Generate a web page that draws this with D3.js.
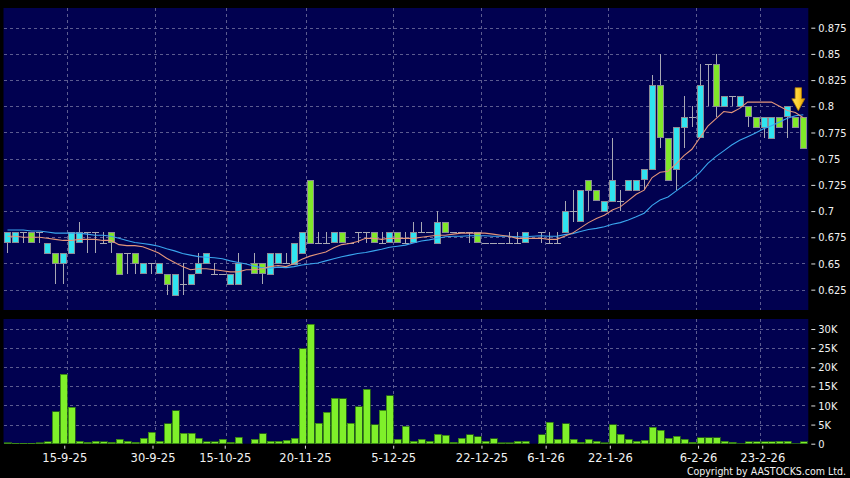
<!DOCTYPE html>
<html><head><meta charset="utf-8">
<script src="https://cdn.jsdelivr.net/npm/d3@7"></script>
<style>html,body{margin:0;padding:0;background:#000;}svg{display:block}</style>
</head><body>
<svg id="c" width="850" height="478"></svg>
<script>
// ---------- DATA ----------
const opens = [0.67,0.67,0.68,0.68,0.68,0.66,0.66,0.65,0.66,0.67, 0.68,0.68,0.67,0.68,0.66,0.66,0.66,0.64,0.65,0.64, 0.64,0.62,0.63,0.63,0.64,0.65,0.64,0.64,0.63,0.63, null,0.65,0.65,0.64,0.65,0.65,0.65,0.66,0.73,0.67, 0.67,0.67,0.68,0.67,0.68,0.68,0.68,0.67,0.67,0.68, 0.67,0.67,0.68,0.68,0.67,0.69,0.68,0.68,0.68,0.68, 0.67,0.67,0.67,0.67,0.67,0.67,null,0.68,0.67,0.67, 0.68,0.70,0.69,0.73,0.72,0.70,0.71,0.71,0.72,0.72, 0.73,0.74,0.82,0.77,0.74,0.78,0.79,0.77,0.84,0.84, 0.80,0.81,0.80,0.80,0.79,0.78,0.77,0.79,0.79,0.79, 0.79];
const highs = [0.68,0.68,0.68,0.68,0.68,0.67,0.66,0.66,0.68,0.69, 0.68,0.68,0.68,0.68,0.66,0.66,0.66,0.65,0.65,0.65, 0.64,0.64,0.65,0.64,0.66,0.66,0.65,0.64,0.64,0.66, null,0.66,0.65,0.66,0.66,0.66,0.67,0.68,0.73,0.68, 0.68,0.68,0.68,0.67,0.68,0.68,0.68,0.68,0.68,0.68, 0.68,0.69,0.69,0.68,0.70,0.69,0.68,0.68,0.68,0.68, 0.67,0.67,0.67,0.68,0.68,0.68,null,0.68,0.68,0.68, 0.71,0.72,0.72,0.73,0.72,0.71,0.77,0.72,0.73,0.73, 0.74,0.83,0.85,0.77,0.78,0.81,0.80,0.84,0.84,0.85, 0.81,0.81,0.81,0.80,0.79,0.79,0.79,0.79,0.80,0.79, 0.79];
const lows = [0.66,0.67,0.67,0.67,0.67,0.66,0.63,0.63,0.66,0.67, 0.66,0.66,0.67,0.66,0.64,0.64,0.64,0.64,0.64,0.64, 0.62,0.62,0.62,0.63,0.64,0.65,0.64,0.64,0.63,0.63, null,0.64,0.63,0.64,0.65,0.65,0.65,0.66,0.67,0.67, 0.67,0.67,0.67,0.67,0.67,0.67,0.67,0.67,0.67,0.67, 0.67,0.67,0.68,0.68,0.67,0.68,0.68,0.68,0.67,0.67, 0.67,0.67,0.67,0.67,0.67,0.67,null,0.67,0.67,0.67, 0.68,0.69,0.69,0.70,0.71,0.70,0.71,0.70,0.72,0.72, 0.72,0.74,0.76,0.73,0.72,0.76,0.78,0.77,0.80,0.79, 0.80,0.80,0.80,0.78,0.78,0.77,0.77,0.78,0.77,0.78, 0.76];
const closes = [0.68,0.68,0.68,0.67,0.68,0.67,0.65,0.66,0.68,0.68, 0.68,0.68,0.67,0.67,0.64,0.66,0.65,0.65,0.65,0.65, 0.63,0.64,0.63,0.64,0.65,0.66,0.64,0.64,0.64,0.65, null,0.64,0.64,0.66,0.66,0.65,0.67,0.68,0.67,0.67, 0.67,0.68,0.67,0.67,0.68,0.68,0.67,0.67,0.68,0.67, 0.67,0.68,0.68,0.68,0.69,0.68,0.68,0.68,0.68,0.67, 0.67,0.67,0.67,0.67,0.67,0.68,null,0.68,0.67,0.67, 0.70,0.70,0.72,0.72,0.71,0.71,0.73,0.71,0.73,0.73, 0.74,0.82,0.77,0.73,0.78,0.79,0.79,0.82,0.84,0.80, 0.81,0.81,0.81,0.79,0.78,0.79,0.79,0.78,0.80,0.78, 0.76];
// volume in thousands of shares
const volumes = [0.3,0.1,0.1,0.1,0.25,0.5,8.3,18.2,9.6,0.6, 0.35,0.6,0.45,0.35,1.1,0.7,0.35,1.4,3.0,0.7, 5.2,8.6,2.7,2.7,1.4,0.45,0.45,1.1,0.35,1.7, 0,1.1,2.6,0.6,0.6,0.9,1.4,24.8,31.2,5.4, 8.2,11.9,11.7,5.4,9.7,14.3,4.9,8.7,12.5,1.2, 4.5,0.7,1.2,0.7,2.5,2.2,0.35,1.4,2.3,1.8, 0.6,1.3,0.25,0.2,0.6,0.7,0,2.4,5.6,1.1, 5.2,1.2,0.35,1.1,0.6,0.2,4.9,2.5,1.1,0.6, 0.9,4.3,3.5,1.4,2.0,1.1,0.35,1.5,1.5,1.6, 0.7,0.35,0.05,0.5,0.5,0.5,0.5,0.7,0.7,0.05, 0.5];
const ma10 = [0.676,0.676,0.675,0.675,0.675,0.674,0.673,0.672,0.672,0.673, 0.673,0.673,0.672,0.672,0.668,0.667,0.667,0.666,0.663,0.660, 0.655,0.651,0.647,0.644,0.645,0.645,0.644,0.643,0.642,0.642, 0.644,0.644,0.645,0.647,0.648,0.647,0.650,0.654,0.657,0.659, 0.661,0.665,0.668,0.669,0.671,0.674,0.674,0.673,0.674,0.674, 0.674,0.674,0.675,0.676,0.677,0.677,0.678,0.679,0.679,0.679, 0.679,0.678,0.677,0.676,0.674,0.674,0.674,0.674,0.673,0.673, 0.676,0.679,0.684,0.689,0.693,0.696,0.701,0.704,0.710,0.716, 0.720,0.732,0.737,0.738,0.745,0.753,0.759,0.770,0.781,0.788, 0.795,0.794,0.798,0.804,0.804,0.804,0.804,0.800,0.796,0.794, 0.789];
const ma20 = [0.682,0.682,0.682,0.681,0.681,0.680,0.679,0.679,0.679,0.679, 0.678,0.677,0.677,0.676,0.674,0.672,0.670,0.669,0.668,0.6665, 0.664,0.662,0.6595,0.658,0.6565,0.656,0.6555,0.6545,0.6525,0.651, 0.6495,0.6475,0.646,0.6455,0.6465,0.646,0.647,0.6485,0.6495,0.6505, 0.6525,0.6545,0.6565,0.658,0.6595,0.6605,0.662,0.6635,0.6655,0.6665, 0.6675,0.6695,0.6715,0.6725,0.674,0.6755,0.676,0.676,0.6765,0.6765, 0.6765,0.676,0.676,0.676,0.6755,0.6755,0.676,0.6765,0.676,0.676, 0.6775,0.6785,0.6805,0.6825,0.6835,0.685,0.6875,0.689,0.6915,0.6945, 0.698,0.7055,0.7105,0.7135,0.719,0.7245,0.730,0.737,0.7455,0.752, 0.7575,0.763,0.7675,0.771,0.7745,0.7785,0.7815,0.785,0.7885,0.791, 0.792];
const dateLabels = ["15-9-25","30-9-25","15-10-25","20-11-25","5-12-25","22-12-25","6-1-26","22-1-26","6-2-26","23-2-26"];
const dateLabelIdx = [7,18,27,37,48,59,67,75,86,94];
const priceTicks = [0.625,0.65,0.675,0.7,0.725,0.75,0.775,0.8,0.825,0.85,0.875];
const priceTickLabels = ["0.625","0.65","0.675","0.7","0.725","0.75","0.775","0.8","0.825","0.85","0.875"];
const volTicks = [0,5,10,15,20,25,30];
const volTickLabels = ["0","5K","10K","15K","20K","25K","30K"];

// ---------- LAYOUT ----------
const svg = d3.select("#c");
const P = {l:3.5, r:808.3, t1:8, b1:310, t2:319, b2:443.7};
const N = closes.length;
const x = d3.scaleBand().domain(d3.range(N)).range([P.l, 807.3]);
const step = x.step();
const cx = i => x(i) + x.bandwidth()/2;
const xLab = d3.scaleLinear().domain([0,100]).range([8.1, 810.4]);
const y = d3.scaleLinear().domain([0.6056, 0.8938]).range([P.b1, P.t1]);
const yv = d3.scaleLinear().domain([0, 32.62]).range([P.b2, P.t2]);

const NAVY = "#010150", GRID = "#5c5c90";
const CYAN = "#30e4f0", GREEN = "#80e82a", BORDER = "#8c8c96", WICK = "#a8a8b4";

svg.append("rect").attr("width",850).attr("height",478).attr("fill","#000");
svg.append("rect").attr("x",P.l).attr("y",P.t1).attr("width",P.r-P.l).attr("height",P.b1-P.t1).attr("fill",NAVY);
svg.append("rect").attr("x",P.l).attr("y",P.t2).attr("width",P.r-P.l).attr("height",P.b2-P.t2).attr("fill",NAVY);

// grids
const g = svg.append("g").attr("stroke",GRID).attr("stroke-width",1).attr("stroke-dasharray","3,3").attr("shape-rendering","crispEdges");
priceTicks.forEach(t => g.append("line").attr("x1",P.l).attr("x2",P.r).attr("y1",Math.round(y(t))+0.5).attr("y2",Math.round(y(t))+0.5));
volTicks.slice(1).forEach(t => g.append("line").attr("x1",P.l).attr("x2",P.r).attr("y1",Math.round(yv(t))+0.5).attr("y2",Math.round(yv(t))+0.5));
dateLabelIdx.forEach(i => {
  const gx = Math.round(x(i)+step)+0.5;
  g.append("line").attr("x1",gx).attr("x2",gx).attr("y1",P.t1).attr("y2",P.b1);
  g.append("line").attr("x1",gx).attr("x2",gx).attr("y1",P.t2).attr("y2",P.b2);
});

// candles
const idx = d3.range(N).filter(i => closes[i] !== null);
const cg = svg.append("g").attr("shape-rendering","crispEdges");
cg.selectAll("line.wick").data(idx).join("line")
  .attr("x1",i=>Math.round(cx(i))+0.5).attr("x2",i=>Math.round(cx(i))+0.5)
  .attr("y1",i=>y(highs[i])).attr("y2",i=>y(lows[i]))
  .attr("stroke",WICK).attr("stroke-width",1);
const doji = idx.filter(i => opens[i] === closes[i]);
const bodies = idx.filter(i => opens[i] !== closes[i]);
cg.selectAll("line.doji").data(doji).join("line")
  .attr("x1",i=>Math.round(cx(i))-3).attr("x2",i=>Math.round(cx(i))+4)
  .attr("y1",i=>Math.round(y(closes[i]))+0.5).attr("y2",i=>Math.round(y(closes[i]))+0.5)
  .attr("stroke",WICK).attr("stroke-width",1);
cg.selectAll("rect.body").data(bodies).join("rect")
  .attr("x",i=>Math.round(cx(i))-2.5)
  .attr("y",i=>Math.round(y(Math.max(opens[i],closes[i])))+0.5)
  .attr("width",6)
  .attr("height",i=>Math.round(Math.abs(y(opens[i])-y(closes[i]))))
  .attr("fill",i=>closes[i]>opens[i]?CYAN:GREEN)
  .attr("stroke",BORDER).attr("stroke-width",1);

// moving averages
const line = d3.line().x((d,i)=>cx(i)).y(d=>y(d)).curve(d3.curveLinear);
svg.append("path").datum(ma20).attr("d",line).attr("fill","none").attr("stroke","#3aa6ee").attr("stroke-width",1.1);
svg.append("path").datum(ma10).attr("d",line).attr("fill","none").attr("stroke","#e4967a").attr("stroke-width",1.1);

// volume bars
const vi = d3.range(N).filter(i => volumes[i] > 0);
svg.append("g").attr("shape-rendering","crispEdges").selectAll("rect").data(vi).join("rect")
  .attr("x",i=>Math.round(cx(i))-3)
  .attr("y",i=>yv(volumes[i]))
  .attr("width",7)
  .attr("height",i=>P.b2-yv(volumes[i]))
  .attr("fill","#7ff02a").attr("stroke","#2c6e14").attr("stroke-width",0.8);

// arrow marker on latest bar
const ax = cx(N-1) - 5, atip = y(opens[N-1]) - 6;
const defs = svg.append("defs");
const gr = defs.append("linearGradient").attr("id","ag").attr("x1",0).attr("x2",1).attr("y1",0).attr("y2",0);
gr.append("stop").attr("offset","0%").attr("stop-color","#ffe060");
gr.append("stop").attr("offset","50%").attr("stop-color","#ffd030");
gr.append("stop").attr("offset","100%").attr("stop-color","#e0a000");
svg.append("path")
  .attr("d",`M${ax-3.2},${atip-23} L${ax+3.2},${atip-23} L${ax+3.2},${atip-12} L${ax+6.5},${atip-12} L${ax},${atip} L${ax-6.5},${atip-12} L${ax-3.2},${atip-12} Z`)
  .attr("fill","url(#ag)").attr("stroke","#b07a00").attr("stroke-width",0.8);

// axes
const FONT = "DejaVu Sans, Verdana, sans-serif";
const FONTC = "DejaVu Sans Condensed, DejaVu Sans, sans-serif";
const ay = svg.append("g").attr("transform",`translate(${P.r+3},0)`)
  .call(d3.axisRight(y).tickValues(priceTicks).tickFormat((d,i)=>priceTickLabels[i]).tickSize(4).tickPadding(3));
const av = svg.append("g").attr("transform",`translate(${P.r+3},0)`)
  .call(d3.axisRight(yv).tickValues(volTicks).tickFormat((d,i)=>volTickLabels[i]).tickSize(4).tickPadding(3));
const ab = svg.append("g").attr("transform",`translate(0,${P.b2+2})`)
  .call(d3.axisBottom(xLab).tickValues(dateLabelIdx).tickFormat((d,i)=>dateLabels[i]).tickSize(3).tickPadding(5));
[ay,av,ab].forEach(a=>{
  a.select(".domain").remove();
  a.selectAll("line").attr("stroke","#e0e0e0");
  a.selectAll("text").attr("fill","#f2f2f2").attr("font-family",FONT);
});
ay.selectAll("text").attr("font-family",FONTC).attr("font-size","11px");
av.selectAll("text").attr("font-family",FONTC).attr("font-size","11px");
ab.selectAll("text").attr("font-size","11.5px");

svg.append("text").attr("x",846).attr("y",475).attr("text-anchor","end")
  .attr("fill","#f2f2f2").attr("font-family",FONTC).attr("font-size","10.5px")
  .text("Copyright by AASTOCKS.com Ltd.");
</script>
</body></html>
